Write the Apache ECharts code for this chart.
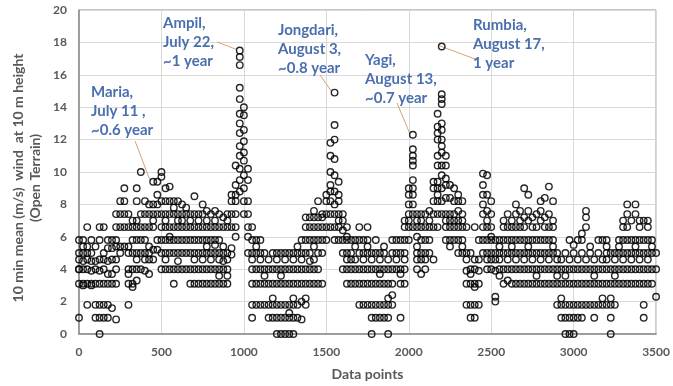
<!DOCTYPE html>
<html>
<head>
<meta charset="utf-8">
<script src="https://cdn.jsdelivr.net/npm/echarts@6/dist/echarts.min.js"></script>
<style>
  html, body { margin: 0; padding: 0; background: #fff; }
  #main { width: 673px; height: 386px; }
</style>
</head>
<body>
<div id="main"></div>
<script>
// each row: [data point index, wind values (m/s) read at that index ...]
var seg1 = [ // 0 - 475
  [0, 1, 3.1, 4, 4, 5, 5.8, 4.6],
  [25, 3.1, 3, 4, 4.5, 5, 5.4, 5.8],
  [50, 1.8, 3.1, 4, 4.6, 5, 5.4, 6.6],
  [75, 3.1, 3, 3.9, 4.5, 5, 5.8],
  [100, 1.8, 1, 3.1, 4, 4.5, 5.4],
  [125, 0, 1, 1.8, 3.1, 3.9, 4.6, 5.8, 6.6],
  [150, 1, 1.8, 3.1, 4, 4.6, 5, 6.6],
  [175, 1, 1.8, 3.1, 3.7, 4.5, 5.3, 5.8],
  [200, 1.6, 3.1, 3.7, 4.6, 5.3, 5.8],
  [225, 0.9, 3.1, 4, 4.6, 5.4, 5.8, 6.6, 7.4],
  [250, 5, 5.4, 6.6, 7.4, 8.2],
  [275, 5.4, 6.6, 7.4, 8.2, 9],
  [300, 1.8, 3.1, 3.7, 4, 5, 5.4, 6.6, 7.4],
  [325, 2.9, 3.1, 4, 5, 5.8, 6.6, 7],
  [350, 3.3, 4, 4.6, 5, 5.8, 6.6, 7, 8.2, 9],
  [375, 4, 5, 5.8, 6.6, 7.4, 10],
  [400, 3.9, 4.6, 5, 5.8, 6.6, 7.4, 8.2],
  [425, 3.7, 4.6, 5, 5.4, 6.6, 7.4, 8],
  [450, 4.6, 5.2, 6.6, 7, 7.4, 8, 9.4],
  [475, 5.2, 5.8, 7.4, 8, 8.6, 9.4]
];
var seg2 = [ // 500 - 1025 (Ampil)
  [500, 4, 5, 5.8, 6.6, 7.4, 8.2, 9.7, 10],
  [525, 4, 4.6, 5, 5.8, 6.6, 7, 7.4, 8.2, 9],
  [550, 4, 5, 5.8, 6, 6.6, 7.4, 8.2, 9.1],
  [575, 3.1, 4, 5, 5.8, 6.6, 7.4, 7.8, 8.2],
  [600, 4, 4.5, 5, 5.8, 6.6, 7, 7.4, 8.2],
  [625, 4, 5, 5.8, 6.6, 7, 7.4, 8],
  [650, 4, 5, 5.8, 6.6, 7.4, 7.8],
  [675, 3.1, 4, 5, 5.8, 6.6, 7, 7.4],
  [700, 3.1, 4, 4.6, 5, 5.8, 6.6, 7.4, 8.5],
  [725, 3.1, 4, 5, 5.8, 6.6, 7, 7.4],
  [750, 3.1, 4, 4.6, 5, 5.8, 6.6, 7.4, 8],
  [775, 3.1, 4, 5, 5.4, 5.8, 6.6, 7, 7.6],
  [800, 3.1, 4, 4.6, 5, 5.8, 6.6, 7.4],
  [825, 3.1, 4, 5, 5.5, 5.8, 6.6, 7, 7.6],
  [850, 3.1, 3.6, 4, 4.6, 5, 5.8, 6.6, 7.4],
  [875, 3.1, 4, 4.5, 5, 5.4, 6.6, 7.2],
  [900, 3.1, 3.6, 4, 4.6, 5, 6.6, 7, 7.4],
  [925, 4.9, 5.3, 6.6, 7.4, 8.2, 8.6],
  [950, 6, 6.6, 7.4, 8.2, 8.6, 9.2, 10.4],
  [975, 8.8, 9.5, 10.2, 11, 11.6, 12.4, 13, 13.6, 14.5, 15.2, 16.6, 17.1, 17.5],
  [1000, 7.4, 8.2, 9, 9.8, 10.7, 11.2, 11.9, 12.6, 13.5, 14],
  [1025, 5, 6, 6.6, 7.4, 8.2, 9.5, 10.2]
];
var seg3 = [ // 1050 - 1625 (Jongdari)
  [1050, 1, 1.8, 3.1, 4, 4.6, 5, 5.8, 6.6],
  [1075, 1.8, 3.1, 4, 5, 5.4, 5.8],
  [1100, 1.8, 3.1, 4, 4.6, 5, 5.8],
  [1125, 1.8, 3.1, 3.6, 4, 5],
  [1150, 1, 1.8, 3.1, 4, 4.6],
  [1175, 1, 1.8, 2.2, 3.1, 4, 5],
  [1200, 0, 1, 1.8, 3.1, 4, 4.6, 5],
  [1225, 0, 1, 1.8, 3.1, 3.6, 4, 5],
  [1250, 0, 1, 1.8, 3.1, 4, 4.6, 5],
  [1275, 0, 1, 1.3, 1.8, 3.1, 4, 5],
  [1300, 0, 1, 1.8, 2.2, 3.1, 4, 4.6, 5],
  [1325, 1, 1.8, 3.1, 4, 5, 5.4],
  [1350, 0.9, 2, 3.1, 4, 4.6, 5, 5.8],
  [1375, 1.8, 2.2, 3.1, 4, 5, 5.8, 6.6, 7.2],
  [1400, 3.1, 4, 4.5, 5, 5.8, 6.6, 7.2],
  [1425, 3.1, 4, 4.6, 5.4, 5.8, 6.6, 7.2, 7.6],
  [1450, 3.1, 4, 5, 5.8, 6.6, 7.2, 8.2],
  [1475, 3.1, 5, 5.8, 6.6, 7.2, 7.4],
  [1500, 5.8, 6.6, 7.4, 8.2, 8.6],
  [1525, 6.6, 7.4, 8.2, 8.8, 9.2, 10, 11, 11.8],
  [1550, 5.8, 6.6, 7.4, 8, 8.8, 9.8, 10.8, 12, 12.9, 14.9],
  [1575, 5.8, 6.6, 7, 7.4, 8.2, 8.6, 9.4],
  [1600, 4, 5, 5.8, 6.4, 7, 7.4],
  [1625, 3.1, 4, 4.6, 5, 5.8, 6, 6.6]
];
var seg4 = [ // 1650 - 2250 (Yagi, Rumbia)
  [1650, 3.1, 4, 4.6, 5, 5.8],
  [1675, 3.1, 4, 4.6, 5.4, 5.8],
  [1700, 1.8, 3.1, 4, 5, 5.8, 6.6],
  [1725, 1.8, 3.1, 4, 4.6, 5, 5.8],
  [1750, 1.8, 3.1, 4, 5, 5.4, 5.8, 6.6],
  [1775, 0, 1, 1.8, 3.1, 4, 4.6, 5],
  [1800, 1, 1.8, 3.1, 4, 5, 5.8],
  [1825, 1, 1.8, 3.1, 3.7, 4, 4.6, 5],
  [1850, 1, 1.8, 3.1, 4, 5, 5.4],
  [1875, 0, 1, 1.8, 2.2, 3.1, 4, 4.6],
  [1900, 1.8, 2.4, 3.1, 4, 5, 5.8],
  [1925, 4, 4.6, 5, 5.8],
  [1950, 1, 3.1, 3.7, 4, 5, 5.8],
  [1975, 3.1, 4, 4.6, 5, 5.8, 6.6, 7],
  [2000, 5.8, 6.6, 7, 7.4, 8, 8.6, 9],
  [2025, 6.6, 7.4, 8, 8.6, 9, 9.5, 10.4, 10.7, 11, 11.4, 12.3],
  [2050, 4, 4.6, 5, 5.4, 6, 6.6, 7, 7.4],
  [2075, 3.7, 4.6, 5, 5.8, 6.6, 7, 7.4],
  [2100, 4, 4.6, 5, 5.8, 6.6, 7.4],
  [2125, 5, 5.8, 6.6, 7, 7.6],
  [2150, 4.6, 6.6, 7.4, 8.2, 9, 9.4],
  [2175, 6.6, 7.4, 8.2, 8.6, 9, 9.4, 10.4, 11, 12, 12.4, 12.8, 13.6],
  [2200, 7.4, 8.2, 9, 9.8, 10.4, 11.2, 11.6, 12, 12.6, 13, 14.2, 14.5, 14.8, 17.75],
  [2225, 5.8, 6.6, 7, 7.4, 8.4, 9.2, 9.6, 10.4, 11],
  [2250, 5.4, 5.8, 6.6, 7, 7.4, 8.4, 9.2]
];
var seg5 = [ // 2275 - 2875
  [2275, 5.8, 6.6, 7, 7.4, 8.2, 9],
  [2300, 5, 5.8, 6.6, 7, 7.6, 8.2, 8.6],
  [2325, 5, 5.4, 5.8, 6.6, 7, 7.4, 8.2],
  [2350, 1.8, 3.1, 3.9, 4.6, 5, 6.6],
  [2375, 1, 1.8, 3.1, 3.7, 4, 5],
  [2400, 1, 1.8, 2.9, 3.1, 4, 4.6, 6.6],
  [2425, 1.8, 3.1, 3.9, 4.6, 5.8],
  [2450, 5, 5.8, 6.6, 7.4, 8, 8.6, 9.2, 9.9],
  [2475, 4, 4.6, 5, 5.8, 6.6, 7, 7.6, 8.6, 9.8],
  [2500, 4, 4.6, 5, 5.8, 6, 6.6, 7.4, 8.2],
  [2525, 2, 2.3, 3.9, 4.6, 5, 5.8],
  [2550, 3.6, 4, 4.6, 5, 5.4, 5.8],
  [2575, 3.1, 4, 5, 5.8, 6.6, 7],
  [2600, 3.3, 4, 4.6, 5, 5.8, 6.6, 7.4],
  [2625, 3.1, 4, 5, 5.4, 5.8, 6.6, 7],
  [2650, 3.1, 4, 4.6, 5, 5.8, 6.6, 7.4, 8],
  [2675, 3.1, 4, 5, 5.8, 6.6, 7, 7.6],
  [2700, 3.1, 4, 4.6, 5, 5.8, 6.6, 7.2, 9],
  [2725, 3.1, 4, 5, 5.4, 5.8, 7, 7.6, 8.6],
  [2750, 3.1, 4, 4.6, 5, 5.8, 6.6, 7.2],
  [2775, 3.1, 3.6, 4, 5, 5.8, 6.6, 7.4],
  [2800, 3.1, 4, 4.6, 5, 5.8, 7, 7.6, 8.2],
  [2825, 3.1, 4, 5, 5.8, 6.6, 7.2, 8.4],
  [2850, 3.1, 4, 4.6, 5, 5.8, 6.6, 7.4, 9.1],
  [2875, 3.1, 4, 5, 5.4, 5.8, 6.6, 7, 8.2]
];
var seg6 = [ // 2900 - 3500
  [2900, 1.8, 3.1, 3.6, 4, 4.6, 5],
  [2925, 1, 1.8, 2.2, 3.1, 4, 4.6],
  [2950, 0, 1, 1.8, 3.1, 3.6, 4, 5],
  [2975, 0, 1, 1.8, 3.1, 4, 4.6, 5.8],
  [3000, 0, 1, 1.8, 3.1, 4, 5, 5.5],
  [3025, 1, 1.8, 3.1, 4, 4.6, 5.8],
  [3050, 1, 1.8, 3.1, 4, 5, 5.8, 6.2],
  [3075, 1.8, 3.1, 4, 4.6, 6.6, 7.2, 7.6],
  [3100, 1.8, 3.1, 4, 5, 5.4],
  [3125, 1, 1.8, 3.1, 3.6, 4, 4.6],
  [3150, 1.8, 3.1, 4, 5, 5.8],
  [3175, 1.8, 2.2, 3.1, 4, 4.6, 5.8],
  [3200, 1.8, 3.1, 4, 4.6, 5, 5.4, 5.8],
  [3225, 0, 1, 1.8, 2.2, 3.1, 4, 5],
  [3250, 1.8, 3.1, 3.6, 4, 4.6, 5],
  [3275, 3.1, 4, 5, 5.4, 5.8],
  [3300, 3.1, 4, 4.6, 5, 5.8, 6.6, 7],
  [3325, 3.1, 4, 5, 5.8, 6.6, 7.4, 8],
  [3350, 3.1, 4, 4.6, 5, 5.8, 7],
  [3375, 3.1, 4, 5, 5.4, 5.8, 7.4, 8],
  [3400, 3.1, 4, 4.6, 5, 5.8, 6.6, 7],
  [3425, 1, 1.8, 3.1, 4, 5, 5.8, 7],
  [3450, 3.1, 4, 4.6, 5, 5.8, 6.6, 7],
  [3475, 3.1, 4, 5, 5.4, 5.8],
  [3500, 2.3, 4, 5]
];

// typhoon annotations
var stormNames = ["Maria,", "Ampil,", "Jongdari,", "Yagi,", "Rumbia,"];
var stormDates = ["July 11 ,", "July 22,", "August 3,", "August 13,", "August 17,"];
var stormPeriods = ["~0.6 year", "~1 year", "~0.8 year", "~0.7 year", "1 year"];
var stormPeaks = [[450, 9.4], [975, 17.5], [1550, 14.9], [2025, 12.3], [2200, 17.75]];

var xTicks = [0, 500, 1000, 1500, 2000, 2500, 3000, 3500];
var yTicks = [0, 2, 4, 6, 8, 10, 12, 14, 16, 18, 20];

function toPoints(seg) {
  var out = [];
  seg.forEach(function (c) {
    for (var i = 1; i < c.length; i++) out.push([c[0], c[i]]);
  });
  return out;
}
var points = [].concat(toPoints(seg1), toPoints(seg2), toPoints(seg3),
  toPoints(seg4), toPoints(seg5), toPoints(seg6));

var FONT = "Lato";
var GRAY = "#595959";
var BLUE = "#4a6fae";

var chart = echarts.init(document.getElementById("main"));
chart.setOption({
  animation: false,
  grid: { left: 79, right: 14, top: 10, bottom: 50, show: true, borderColor: "#8c8c8c", borderWidth: 1 },
  xAxis: {
    type: "value", min: xTicks[0], max: xTicks[xTicks.length - 1], interval: 500,
    axisLine: { show: true, lineStyle: { color: "#8c8c8c", width: 1.5 } },
    axisTick: { show: false },
    splitLine: { show: true, lineStyle: { color: "#d9d9d9" } },
    axisLabel: {
      color: GRAY, fontFamily: FONT, fontWeight: "bold", fontSize: 12, margin: 12,
      formatter: function (v) { return String(v); }
    },
    name: "Data points", nameLocation: "middle", nameGap: 33,
    nameTextStyle: { color: GRAY, fontFamily: FONT, fontWeight: "bold", fontSize: 14 }
  },
  yAxis: {
    type: "value", min: yTicks[0], max: yTicks[yTicks.length - 1], interval: 2,
    axisLine: { show: true, lineStyle: { color: "#8c8c8c", width: 1.5 } },
    axisTick: { show: false },
    splitLine: { show: true, lineStyle: { color: "#d9d9d9" } },
    axisLabel: { color: GRAY, fontFamily: FONT, fontWeight: "bold", fontSize: 12, margin: 12 }
  },
  series: [{
    type: "scatter",
    data: points,
    symbol: "circle",
    symbolSize: 6.5,
    itemStyle: { color: "rgba(0,0,0,0)", borderColor: "#000", borderWidth: 1.4, opacity: 0.85 },
    emphasis: { disabled: true }
  }]
});

// annotation text boxes (pixel layout) and leader-line start points
var labelPos = [[91, 83], [163, 14], [278, 21], [365, 51], [473, 16]];
var lineStart = [[135, 141], [217, 42], [320, 75], [397, 103], [475, 59]];

var graphics = [{
  type: "text", rotation: Math.PI / 2, silent: true,
  style: {
    text: "10 min mean (m/s)  wind  at 10 m height\n(Open Terrain)",
    font: "bold 14px " + FONT, fill: GRAY, align: "center", verticalAlign: "middle", lineHeight: 17
  },
  x: 27, y: 178
}];
stormNames.forEach(function (n, i) {
  var end = chart.convertToPixel({ gridIndex: 0 }, stormPeaks[i]);
  graphics.push({
    type: "line", silent: true,
    shape: { x1: lineStart[i][0], y1: lineStart[i][1], x2: end[0] - 3, y2: end[1] - 1 },
    style: { stroke: "#d9a273", lineWidth: 1 }
  });
  graphics.push({
    type: "text", x: labelPos[i][0], y: labelPos[i][1], silent: true,
    style: {
      text: n + "\n" + stormDates[i] + "\n" + stormPeriods[i],
      font: "bold 15px " + FONT, fill: BLUE, lineHeight: 19
    }
  });
});
chart.setOption({ graphic: graphics });
</script>
</body>
</html>
